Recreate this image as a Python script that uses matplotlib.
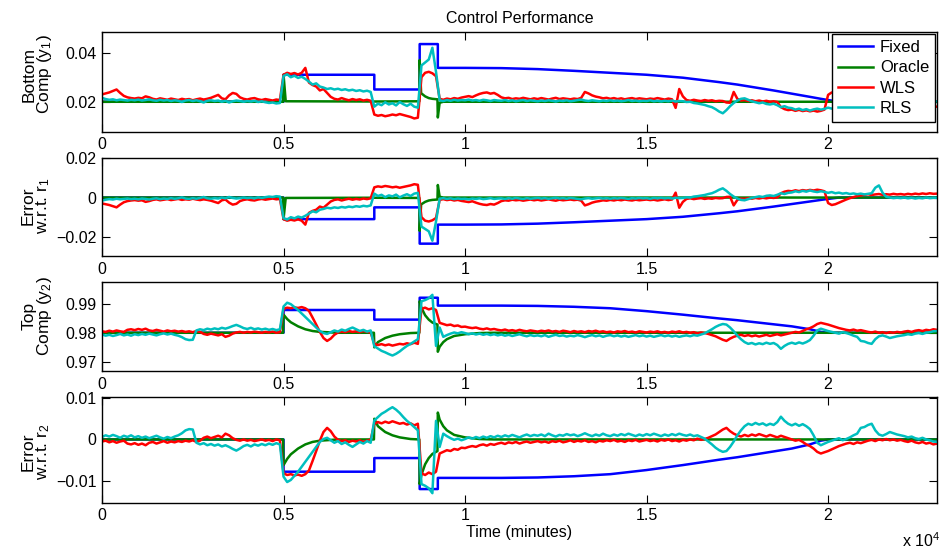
import numpy as np
import matplotlib
matplotlib.use('Agg')
import matplotlib.pyplot as plt

plt.rcParams['font.family'] = ['Liberation Sans', 'DejaVu Sans']
plt.rcParams['mathtext.fontset'] = 'custom'
plt.rcParams['mathtext.rm'] = 'Liberation Sans'
plt.rcParams['mathtext.it'] = 'Liberation Sans:italic'

# set points
r1 = 0.02
r2 = 0.98

# time grid of the WLS / RLS traces (minutes, step 100)
t_grid = np.arange(0, 23001, 100)

# bottom composition y1
wls_y1 = [
    0.0230, 0.0234, 0.0238, 0.0244, 0.0250, 0.0236, 0.0224, 0.0218, 0.0215, 0.0213,
    0.0216, 0.0214, 0.0222, 0.0218, 0.0212, 0.0209, 0.0214, 0.0211, 0.0208, 0.0213,
    0.0210, 0.0207, 0.0212, 0.0209, 0.0211, 0.0206, 0.0210, 0.0213, 0.0209, 0.0212,
    0.0216, 0.0222, 0.0228, 0.0214, 0.0210, 0.0226, 0.0236, 0.0232, 0.0218, 0.0212,
    0.0209, 0.0213, 0.0215, 0.0210, 0.0207, 0.0211, 0.0208, 0.0205, 0.0209, 0.0207,
    0.0310, 0.0318, 0.0313, 0.0317, 0.0311, 0.0318, 0.0338, 0.0278, 0.0268, 0.0262,
    0.0246, 0.0252, 0.0236, 0.0220, 0.0212, 0.0209, 0.0215, 0.0210, 0.0206, 0.0211,
    0.0207, 0.0210, 0.0205, 0.0208, 0.0204, 0.0148, 0.0143, 0.0146, 0.0141, 0.0144,
    0.0148, 0.0145, 0.0150, 0.0146, 0.0142, 0.0138, 0.0132, 0.0135, 0.0300, 0.0318,
    0.0322, 0.0316, 0.0304, 0.0212, 0.0208, 0.0213, 0.0210, 0.0215, 0.0212, 0.0217,
    0.0220, 0.0223, 0.0219, 0.0226, 0.0232, 0.0236, 0.0238, 0.0233, 0.0236, 0.0228,
    0.0218, 0.0214, 0.0216, 0.0211, 0.0214, 0.0212, 0.0216, 0.0213, 0.0210, 0.0214,
    0.0211, 0.0215, 0.0212, 0.0209, 0.0213, 0.0216, 0.0211, 0.0214, 0.0212, 0.0210,
    0.0213, 0.0211, 0.0216, 0.0240, 0.0234, 0.0226, 0.0221, 0.0218, 0.0214, 0.0216,
    0.0212, 0.0215, 0.0211, 0.0214, 0.0210, 0.0213, 0.0215, 0.0211, 0.0214, 0.0212,
    0.0210, 0.0213, 0.0211, 0.0215, 0.0212, 0.0209, 0.0213, 0.0210, 0.0175, 0.0252,
    0.0222, 0.0207, 0.0204, 0.0208, 0.0205, 0.0203, 0.0207, 0.0204, 0.0206, 0.0202,
    0.0204, 0.0203, 0.0197, 0.0196, 0.0240, 0.0212, 0.0205, 0.0207, 0.0203, 0.0206,
    0.0202, 0.0205, 0.0201, 0.0204, 0.0200, 0.0202, 0.0199, 0.0178, 0.0170, 0.0166,
    0.0168, 0.0163, 0.0167, 0.0162, 0.0165, 0.0161, 0.0164, 0.0160, 0.0163, 0.0168,
    0.0228, 0.0238, 0.0234, 0.0226, 0.0218, 0.0210, 0.0203, 0.0198, 0.0192, 0.0189,
    0.0186, 0.0183, 0.0187, 0.0184, 0.0182, 0.0186, 0.0183, 0.0185, 0.0181, 0.0184,
    0.0182, 0.0185, 0.0181, 0.0184, 0.0180, 0.0183, 0.0179, 0.0182, 0.0178, 0.0181,
    0.0180]
rls_y1 = [
    0.0216, 0.0211, 0.0208, 0.0210, 0.0206, 0.0209, 0.0207, 0.0205, 0.0208, 0.0206,
    0.0209, 0.0205, 0.0207, 0.0210, 0.0206, 0.0204, 0.0208, 0.0205, 0.0207, 0.0203,
    0.0206, 0.0204, 0.0199, 0.0205, 0.0207, 0.0203, 0.0206, 0.0202, 0.0197, 0.0204,
    0.0206, 0.0203, 0.0205, 0.0200, 0.0204, 0.0197, 0.0202, 0.0205, 0.0203, 0.0200,
    0.0203, 0.0201, 0.0204, 0.0199, 0.0202, 0.0198, 0.0195, 0.0197, 0.0193, 0.0195,
    0.0305, 0.0312, 0.0300, 0.0306, 0.0297, 0.0302, 0.0293, 0.0282, 0.0270, 0.0275,
    0.0262, 0.0258, 0.0252, 0.0255, 0.0250, 0.0253, 0.0248, 0.0251, 0.0246, 0.0249,
    0.0244, 0.0247, 0.0242, 0.0245, 0.0240, 0.0180, 0.0192, 0.0186, 0.0198, 0.0189,
    0.0194, 0.0185, 0.0199, 0.0190, 0.0183, 0.0192, 0.0180, 0.0176, 0.0348, 0.0360,
    0.0372, 0.0420, 0.0322, 0.0206, 0.0203, 0.0207, 0.0204, 0.0208, 0.0205, 0.0207,
    0.0206, 0.0209, 0.0205, 0.0207, 0.0204, 0.0208, 0.0206, 0.0203, 0.0207, 0.0205,
    0.0204, 0.0207, 0.0203, 0.0206, 0.0202, 0.0205, 0.0207, 0.0203, 0.0206, 0.0204,
    0.0202, 0.0205, 0.0203, 0.0206, 0.0204, 0.0201, 0.0205, 0.0203, 0.0206, 0.0202,
    0.0204, 0.0207, 0.0209, 0.0205, 0.0203, 0.0206, 0.0204, 0.0202, 0.0205, 0.0203,
    0.0206, 0.0203, 0.0205, 0.0202, 0.0204, 0.0207, 0.0203, 0.0205, 0.0202, 0.0204,
    0.0203, 0.0206, 0.0202, 0.0204, 0.0201, 0.0204, 0.0202, 0.0205, 0.0201, 0.0203,
    0.0202, 0.0199, 0.0200, 0.0195, 0.0193, 0.0190, 0.0187, 0.0182, 0.0178, 0.0170,
    0.0160, 0.0153, 0.0166, 0.0182, 0.0195, 0.0205, 0.0212, 0.0214, 0.0208, 0.0202,
    0.0198, 0.0194, 0.0197, 0.0191, 0.0189, 0.0192, 0.0186, 0.0178, 0.0182, 0.0176,
    0.0174, 0.0168, 0.0172, 0.0166, 0.0170, 0.0164, 0.0169, 0.0172, 0.0168, 0.0171,
    0.0176, 0.0172, 0.0178, 0.0175, 0.0180, 0.0177, 0.0182, 0.0179, 0.0183, 0.0180,
    0.0184, 0.0181, 0.0178, 0.0150, 0.0138, 0.0175, 0.0196, 0.0200, 0.0203, 0.0201,
    0.0203, 0.0200, 0.0204, 0.0201, 0.0205, 0.0202, 0.0204, 0.0200, 0.0203, 0.0201,
    0.0202]

# top composition y2
wls_y2 = [
    0.9805, 0.9803, 0.9807, 0.9804, 0.9808, 0.9805, 0.9803, 0.9810, 0.9812, 0.9809,
    0.9813, 0.9810, 0.9814, 0.9808, 0.9806, 0.9810, 0.9807, 0.9804, 0.9808, 0.9805,
    0.9807, 0.9804, 0.9806, 0.9803, 0.9805, 0.9802, 0.9806, 0.9803, 0.9796, 0.9793,
    0.9797, 0.9794, 0.9791, 0.9795, 0.9786, 0.9790, 0.9797, 0.9801, 0.9803, 0.9800,
    0.9803, 0.9801, 0.9804, 0.9802, 0.9800, 0.9803, 0.9801, 0.9804, 0.9800, 0.9802,
    0.9882, 0.9886, 0.9884, 0.9887, 0.9885, 0.9888, 0.9884, 0.9875, 0.9852, 0.9828,
    0.9803, 0.9782, 0.9772, 0.9780, 0.9793, 0.9801, 0.9804, 0.9802, 0.9806, 0.9803,
    0.9805, 0.9802, 0.9806, 0.9803, 0.9801, 0.9762, 0.9758, 0.9761, 0.9757, 0.9760,
    0.9756, 0.9759, 0.9762, 0.9760, 0.9764, 0.9761, 0.9766, 0.9762, 0.9882, 0.9886,
    0.9880, 0.9884, 0.9878, 0.9834, 0.9830, 0.9826, 0.9828, 0.9823, 0.9825, 0.9820,
    0.9821, 0.9818, 0.9816, 0.9818, 0.9814, 0.9812, 0.9815, 0.9811, 0.9813, 0.9810,
    0.9808, 0.9811, 0.9807, 0.9809, 0.9806, 0.9810, 0.9807, 0.9805, 0.9808, 0.9806,
    0.9804, 0.9807, 0.9805, 0.9808, 0.9804, 0.9806, 0.9803, 0.9807, 0.9805, 0.9802,
    0.9806, 0.9803, 0.9805, 0.9802, 0.9806, 0.9804, 0.9807, 0.9803, 0.9805, 0.9802,
    0.9804, 0.9801, 0.9805, 0.9803, 0.9806, 0.9802, 0.9804, 0.9801, 0.9805, 0.9803,
    0.9801, 0.9804, 0.9802, 0.9805, 0.9801, 0.9803, 0.9800, 0.9804, 0.9802, 0.9805,
    0.9801, 0.9803, 0.9800, 0.9802, 0.9798, 0.9801, 0.9799, 0.9796, 0.9792, 0.9788,
    0.9782, 0.9776, 0.9772, 0.9780, 0.9786, 0.9790, 0.9793, 0.9789, 0.9792, 0.9788,
    0.9791, 0.9787, 0.9790, 0.9793, 0.9789, 0.9792, 0.9795, 0.9791, 0.9794, 0.9797,
    0.9800, 0.9803, 0.9801, 0.9806, 0.9812, 0.9816, 0.9822, 0.9830, 0.9834, 0.9831,
    0.9828, 0.9824, 0.9820, 0.9816, 0.9813, 0.9810, 0.9808, 0.9811, 0.9807, 0.9809,
    0.9806, 0.9803, 0.9801, 0.9804, 0.9800, 0.9802, 0.9799, 0.9802, 0.9800, 0.9803,
    0.9801, 0.9804, 0.9806, 0.9803, 0.9807, 0.9809, 0.9806, 0.9810, 0.9808, 0.9812,
    0.9810]
rls_y2 = [
    0.9794, 0.9790, 0.9793, 0.9789, 0.9792, 0.9796, 0.9791, 0.9794, 0.9790, 0.9795,
    0.9792, 0.9796, 0.9793, 0.9797, 0.9794, 0.9791, 0.9795, 0.9798, 0.9794, 0.9797,
    0.9793, 0.9790, 0.9785, 0.9778, 0.9775, 0.9776, 0.9808, 0.9812, 0.9809, 0.9814,
    0.9811, 0.9815, 0.9812, 0.9817, 0.9814, 0.9818, 0.9823, 0.9827, 0.9822, 0.9816,
    0.9813, 0.9817, 0.9812, 0.9815, 0.9811, 0.9814, 0.9810, 0.9813, 0.9809, 0.9812,
    0.9890, 0.9903, 0.9898, 0.9888, 0.9878, 0.9866, 0.9854, 0.9842, 0.9830, 0.9818,
    0.9806, 0.9799, 0.9796, 0.9802, 0.9808, 0.9804, 0.9811, 0.9807, 0.9813, 0.9818,
    0.9812, 0.9806, 0.9810, 0.9804, 0.9808, 0.9754, 0.9746, 0.9738, 0.9733, 0.9727,
    0.9722, 0.9728, 0.9736, 0.9746, 0.9755, 0.9762, 0.9770, 0.9778, 0.9908, 0.9912,
    0.9918, 0.9930, 0.9755, 0.9818, 0.9786, 0.9792, 0.9797, 0.9801, 0.9798, 0.9802,
    0.9799, 0.9795, 0.9798, 0.9794, 0.9797, 0.9793, 0.9796, 0.9792, 0.9795, 0.9791,
    0.9794, 0.9790, 0.9793, 0.9789, 0.9792, 0.9795, 0.9791, 0.9788, 0.9792, 0.9789,
    0.9791, 0.9788, 0.9792, 0.9786, 0.9790, 0.9793, 0.9789, 0.9791, 0.9787, 0.9790,
    0.9788, 0.9792, 0.9789, 0.9785, 0.9789, 0.9792, 0.9788, 0.9791, 0.9786, 0.9790,
    0.9792, 0.9788, 0.9791, 0.9787, 0.9790, 0.9786, 0.9789, 0.9792, 0.9788, 0.9791,
    0.9787, 0.9790, 0.9786, 0.9789, 0.9792, 0.9788, 0.9791, 0.9787, 0.9790, 0.9786,
    0.9789, 0.9791, 0.9788, 0.9792, 0.9790, 0.9794, 0.9798, 0.9805, 0.9812, 0.9820,
    0.9826, 0.9830, 0.9828, 0.9818, 0.9805, 0.9790, 0.9778, 0.9768, 0.9762, 0.9765,
    0.9760, 0.9764, 0.9761, 0.9766, 0.9762, 0.9765, 0.9758, 0.9745, 0.9755, 0.9762,
    0.9766, 0.9762, 0.9767, 0.9763, 0.9768, 0.9775, 0.9790, 0.9808, 0.9814, 0.9810,
    0.9806, 0.9803, 0.9800, 0.9797, 0.9802, 0.9799, 0.9795, 0.9790, 0.9786, 0.9772,
    0.9770, 0.9765, 0.9762, 0.9778, 0.9788, 0.9791, 0.9787, 0.9782, 0.9785, 0.9788,
    0.9790, 0.9792, 0.9795, 0.9793, 0.9797, 0.9799, 0.9796, 0.9800, 0.9802, 0.9805,
    0.9806]

# fixed controller (piecewise)
fixed_t = [0, 5000, 5000, 7500, 7500, 8750, 8750, 9250, 9250, 10000, 11000, 12000,
           13000, 14000, 15000, 16000, 17000, 17500, 18000, 18500, 19000, 19500,
           19800, 20000, 20300, 23000]
fixed_y1 = [0.0200, 0.0200, 0.0310, 0.0310, 0.0250, 0.0250, 0.0435, 0.0435, 0.0338,
            0.0338, 0.0337, 0.0333, 0.0326, 0.0318, 0.0310, 0.0298, 0.0280, 0.0270,
            0.0258, 0.0246, 0.0233, 0.0220, 0.0212, 0.0207, 0.0200, 0.0200]
fixed_y2 = [0.9800, 0.9800, 0.9878, 0.9878, 0.9845, 0.9845, 0.9920, 0.9920, 0.9893,
            0.9893, 0.9893, 0.9892, 0.9889, 0.9884, 0.9874, 0.9862, 0.9849, 0.9843,
            0.9836, 0.9829, 0.9822, 0.9812, 0.9803, 0.9800, 0.9800, 0.9800]

# oracle controller
oracle_t1 = [0, 4990, 5000, 5060, 7490, 8740, 8750, 8790, 8900, 9000, 9100, 9240,
             9250, 9300, 9400, 23000]
oracle_y1 = [0.0200, 0.0200, 0.0310, 0.0202, 0.0201, 0.0202, 0.0370, 0.0235, 0.0222,
             0.0215, 0.0212, 0.0210, 0.0136, 0.0196, 0.0200, 0.0200]
oracle_t2 = [0, 4990, 5000, 5100, 5200, 5400, 5600, 5800, 6000, 6500, 7490, 7500,
             7600, 7800, 8000, 8200, 8500, 8740, 8750, 8800, 8900, 9000, 9100, 9240,
             9250, 9300, 9400, 9500, 9700, 10000, 10400, 10800, 23000]
oracle_y2 = [0.9800, 0.9800, 0.9862, 0.9847, 0.9836, 0.9822, 0.9812, 0.9806, 0.9803,
             0.9800, 0.9800, 0.9750, 0.9768, 0.9782, 0.9790, 0.9795, 0.9799, 0.9800,
             0.9908, 0.9885, 0.9860, 0.9845, 0.9835, 0.9828, 0.9735, 0.9752, 0.9768,
             0.9778, 0.9789, 0.9795, 0.9799, 0.9800, 0.9800]

names = ['Fixed', 'Oracle', 'WLS', 'RLS']
colors = ['#0000ff', '#008000', '#ff0000', '#00bfbf']

fixed_t = np.array(fixed_t)
panels = [
    dict(series=[(fixed_t, np.array(fixed_y1)), (oracle_t1, np.array(oracle_y1)),
                 (t_grid, np.array(wls_y1)), (t_grid, np.array(rls_y1))],
         ylabel='Bottom\nComp (y$_1$)', ylim=(0.0078, 0.0483),
         yticks=[0.02, 0.04], pos=[0.1083, 0.7614, 0.8864, 0.1801], ly=0.58, lx=-0.0575),
    dict(series=[(fixed_t, r1 - np.array(fixed_y1)), (oracle_t1, r1 - np.array(oracle_y1)),
                 (t_grid, r1 - np.array(wls_y1)), (t_grid, r1 - np.array(rls_y1))],
         ylabel='Error\nw.r.t. r$_1$', ylim=(-0.0298, 0.02),
         yticks=[-0.02, 0, 0.02], pos=[0.1083, 0.5362, 0.8864, 0.1770], ly=0.51, lx=-0.060),
    dict(series=[(fixed_t, np.array(fixed_y2)), (oracle_t2, np.array(oracle_y2)),
                 (t_grid, np.array(wls_y2)), (t_grid, np.array(rls_y2))],
         ylabel='Top\nComp (y$_2$)', ylim=(0.9669, 0.9975),
         yticks=[0.97, 0.98, 0.99], pos=[0.1083, 0.3279, 0.8864, 0.1618], ly=0.615, lx=-0.0575),
    dict(series=[(fixed_t, r2 - np.array(fixed_y2)), (oracle_t2, r2 - np.array(oracle_y2)),
                 (t_grid, r2 - np.array(wls_y2)), (t_grid, r2 - np.array(rls_y2))],
         ylabel='Error\nw.r.t. r$_2$', ylim=(-0.0153, 0.0102),
         yticks=[-0.01, 0, 0.01], pos=[0.1083, 0.0893, 0.8864, 0.1910], ly=0.48, lx=-0.060),
]

fig = plt.figure(figsize=(9.42, 5.52), dpi=100)
axes = []
for p in panels:
    ax = fig.add_axes(p['pos'])
    for (tx, vy), name, c in zip(p['series'], names, colors):
        ax.plot(tx, vy, color=c, lw=1.8, label=name)
    ax.set_xlim(0, 23000)
    ax.set_ylim(*p['ylim'])
    ax.set_xticks([0, 5000, 10000, 15000, 20000])
    ax.set_xticklabels(['0', '0.5', '1', '1.5', '2'])
    ax.set_yticks(p['yticks'])
    ax.set_yticklabels(['%g' % v if v >= 0 else '\u2212%g' % -v for v in p['yticks']])
    ax.tick_params(direction='in', top=True, right=True, length=5.8, width=0.8,
                   labelsize=11.5, pad=4)
    for s in ax.spines.values():
        s.set_linewidth(1.0)
    ax.set_ylabel(p['ylabel'], fontsize=12.5, linespacing=0.9)
    ax.yaxis.set_label_coords(p['lx'], p['ly'])
    axes.append(ax)

axes[0].set_title('Control Performance', fontsize=11.5, pad=7)
leg = axes[0].legend(loc='upper right', fontsize=12, fancybox=False, framealpha=1,
                     edgecolor='black', borderaxespad=0.12, handlelength=2.1,
                     labelspacing=0.32, borderpad=0.35, handletextpad=0.4)
leg.get_frame().set_linewidth(1.0)

fig.text(519 / 942, 1 - 533 / 552, 'Time (minutes)', ha='center', va='center', fontsize=11.5)
fig.text(940 / 942, 1 - 547 / 552, 'x 10$^4$', ha='right', va='baseline', fontsize=11.5)

fig.savefig('out.png', dpi=100)
